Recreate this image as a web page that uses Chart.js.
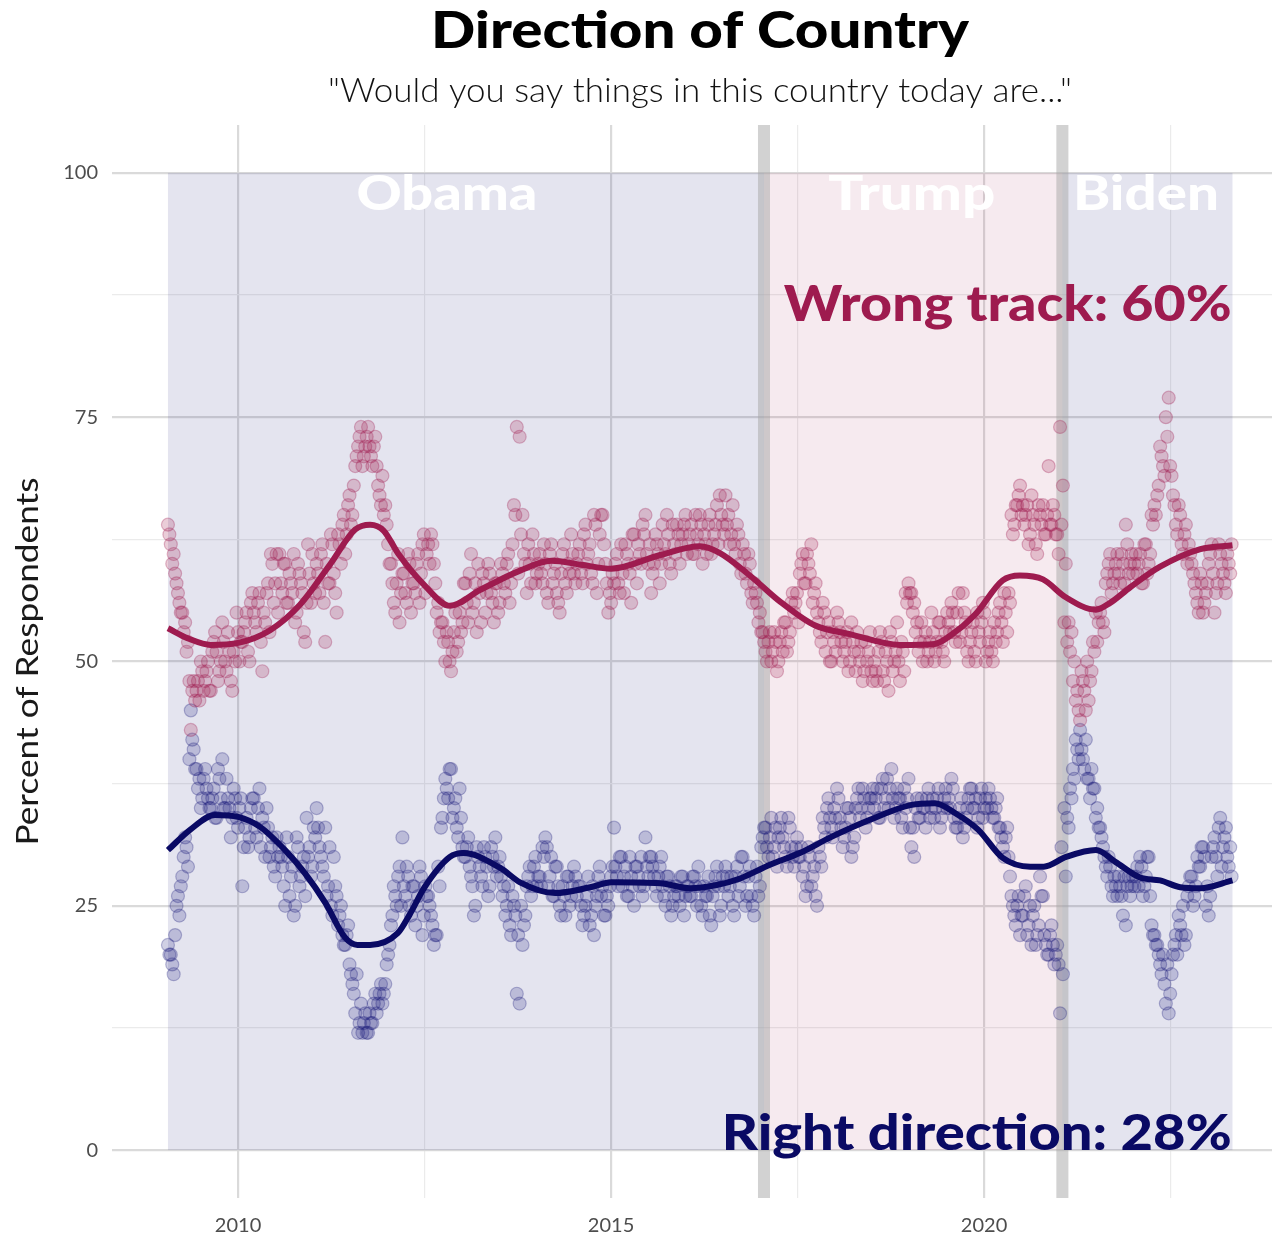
<!DOCTYPE html>
<html>
<head>
<meta charset="utf-8">
<title>Direction of Country</title>
<script src="https://cdn.jsdelivr.net/npm/chart.js@4.4.0/dist/chart.umd.min.js"></script>
<style>
  html, body { margin: 0; padding: 0; background: #ffffff; }
  #wrap { width: 1272px; height: 1238px; position: relative; }
</style>
</head>
<body>
<div id="wrap"><canvas id="chart"></canvas></div>
<script>
// Direction of Country - weekly tracking poll, right direction vs wrong track

// Poll series: weekly polls split in two interleaved biweekly runs
const FIRST_POLL = 2009.06;
const POLL_STEP = 14 / 365.25;
const HALF_STEP = 7 / 365.25;

const wrongTrack = [
  64, 62, 61, 58, 56, 55, 54, 52, 43, 48, 47, 46, 49,
  48, 50, 47, 52, 51, 49, 54, 50, 53, 48, 51, 55, 50,
  52, 54, 51, 56, 55, 53, 57, 49, 54, 58, 61, 56, 61,
  61, 57, 60, 56, 58, 61, 55, 59, 57, 52, 62, 56, 58,
  60, 57, 62, 52, 58, 63, 59, 55, 62, 64, 61, 66, 64,
  68, 71, 73, 70, 72, 74, 71, 72, 70, 67, 69, 66, 62,
  60, 56, 58, 54, 59, 57, 61, 55, 58, 60, 56, 62, 57,
  62, 63, 60, 55, 53, 54, 50, 52, 49, 53, 51, 55, 54,
  58, 54, 61, 56, 53, 57, 59, 55, 60, 57, 54, 58, 56,
  59, 57, 61, 58, 66, 74, 73, 65, 60, 62, 58, 61, 59,
  61, 58, 60, 56, 62, 59, 57, 55, 61, 58, 60, 63, 59,
  60, 62, 58, 64, 61, 59, 65, 57, 63, 65, 60, 55, 56,
  58, 61, 57, 59, 62, 60, 56, 63, 58, 61, 64, 65, 60,
  57, 60, 62, 58, 64, 61, 63, 59, 62, 64, 60, 63, 65,
  62, 64, 61, 63, 65, 60, 62, 64, 61, 63, 66, 67, 64,
  67, 65, 63, 62, 64, 60, 62, 59, 61, 57, 58, 56, 55,
  53, 51, 52, 50, 53, 49, 52, 51, 54, 52, 56, 55, 57,
  59, 61, 58, 60, 62, 57, 55, 53, 56, 51, 54, 50, 52,
  55, 53, 50, 52, 49, 54, 51, 53, 50, 48, 52, 51, 49,
  50, 48, 53, 49, 51, 47, 52, 50, 54, 48, 51, 57, 58,
  57, 56, 54, 52, 50, 53, 51, 55, 50, 52, 54, 51, 53,
  54, 56, 53, 55, 52, 57, 54, 50, 53, 51, 55, 52, 56,
  50, 52, 51, 54, 53, 56, 52, 55, 57, 65, 64, 66, 68,
  66, 65, 62, 67, 64, 61, 65, 66, 63, 70, 64, 65, 63,
  74, 68, 60, 54, 53, 50, 47, 44, 48, 45, 46, 49, 51,
  52, 55, 54, 58, 60, 57, 59, 61, 58, 60, 64, 59, 61,
  60, 59, 61, 58, 62, 60, 65, 66, 67, 72, 70, 75, 77,
  69, 66, 63, 65, 61, 64, 62, 60, 58, 56, 59, 55, 57,
  60, 62, 55, 58, 61, 59, 57, 60, 62
];

const wrongTrackMid = [
  63, 60, 59, 57, 55, 53, 51, 48, 47, 46, 48, 50, 47,
  49, 47, 51, 53, 48, 50, 52, 49, 51, 47, 50, 53, 52,
  53, 55, 50, 57, 54, 56, 52, 55, 57, 53, 60, 58, 55,
  58, 60, 56, 59, 57, 54, 60, 58, 53, 56, 59, 61, 57,
  59, 61, 56, 60, 58, 62, 57, 63, 60, 65, 63, 67, 65,
  70, 72, 74, 71, 73, 72, 70, 73, 68, 66, 65, 64, 60,
  58, 55, 61, 57, 59, 56, 60, 58, 57, 61, 59, 63, 61,
  60, 62, 58, 56, 54, 52, 53, 50, 51, 55, 52, 53, 58,
  56, 59, 55, 58, 60, 54, 58, 57, 59, 56, 58, 55, 60,
  58, 60, 56, 62, 65, 59, 63, 61, 57, 60, 63, 58, 60,
  59, 62, 57, 61, 58, 60, 56, 59, 62, 57, 59, 61, 58,
  61, 59, 63, 60, 62, 58, 64, 60, 65, 62, 58, 57, 59,
  60, 58, 62, 57, 61, 59, 63, 60, 62, 60, 63, 61, 62,
  59, 63, 61, 60, 62, 65, 60, 64, 61, 63, 62, 64, 61,
  63, 61, 65, 62, 64, 63, 61, 65, 62, 64, 62, 65, 63,
  64, 62, 66, 61, 63, 59, 61, 58, 60, 56, 57, 54, 53,
  52, 50, 53, 51, 52, 50, 53, 54, 51, 53, 57, 56, 54,
  60, 58, 61, 59, 56, 58, 54, 52, 55, 53, 50, 53, 51,
  54, 52, 51, 53, 50, 52, 49, 51, 52, 49, 50, 53, 48,
  49, 51, 52, 48, 50, 53, 49, 51, 50, 52, 49, 56, 57,
  55, 53, 51, 54, 52, 50, 52, 53, 51, 54, 52, 50, 55,
  53, 55, 52, 57, 53, 55, 51, 52, 54, 50, 53, 54, 55,
  51, 53, 50, 52, 55, 54, 57, 53, 56, 63, 66, 67, 65,
  64, 66, 63, 65, 62, 66, 64, 63, 65, 64, 66, 63, 61,
  64, 54, 52, 51, 48, 46, 45, 49, 47, 50, 48, 52, 55,
  54, 56, 53, 59, 61, 58, 60, 59, 61, 58, 62, 60, 59,
  61, 60, 58, 62, 59, 61, 64, 65, 68, 71, 69, 73, 70,
  67, 64, 66, 62, 63, 60, 61, 59, 57, 55, 58, 56, 58,
  61, 59, 57, 62, 60, 58, 61, 59
];

const rightDirection = [
  21, 20, 18, 25, 24, 28, 32, 29, 45, 41, 39, 38, 36,
  39, 36, 35, 37, 34, 38, 40, 35, 36, 32, 37, 34, 35,
  27, 33, 31, 35, 36, 32, 37, 34, 30, 33, 31, 29, 32,
  31, 29, 25, 30, 28, 24, 32, 27, 29, 26, 30, 28, 33,
  35, 31, 29, 33, 27, 25, 30, 26, 24, 22, 21, 23, 18,
  16, 18, 13, 12, 14, 12, 13, 15, 14, 16, 15, 17, 20,
  23, 27, 25, 29, 32, 26, 28, 24, 27, 25, 29, 22, 27,
  26, 24, 21, 22, 27, 34, 38, 36, 39, 35, 33, 37, 31,
  30, 32, 28, 24, 31, 29, 27, 30, 26, 31, 29, 28, 30,
  26, 24, 27, 22, 25, 16, 15, 21, 24, 28, 26, 29, 27,
  28, 31, 32, 27, 30, 26, 29, 25, 27, 24, 28, 26, 29,
  26, 27, 23, 25, 28, 24, 22, 26, 29, 27, 24, 25, 28,
  33, 28, 30, 27, 29, 26, 28, 25, 29, 27, 26, 32, 28,
  30, 28, 26, 29, 27, 25, 28, 24, 26, 27, 25, 28, 26,
  27, 26, 28, 25, 27, 24, 26, 28, 23, 27, 29, 24, 28,
  29, 26, 28, 24, 29, 27, 30, 25, 28, 26, 24, 29, 27,
  32, 33, 30, 34, 31, 29, 33, 32, 30, 34, 31, 29, 32,
  30, 28, 26, 31, 27, 29, 25, 30, 34, 32, 36, 33, 35,
  37, 34, 31, 33, 35, 30, 32, 36, 34, 37, 33, 35, 36,
  35, 37, 34, 38, 36, 35, 39, 34, 37, 36, 33, 35, 38,
  31, 30, 36, 34, 35, 33, 37, 35, 34, 36, 33, 35, 37,
  36, 38, 34, 33, 35, 32, 34, 36, 37, 35, 33, 36, 34,
  36, 37, 35, 34, 36, 33, 31, 32, 30, 26, 24, 25, 22,
  24, 27, 23, 21, 25, 22, 28, 26, 21, 20, 23, 19, 21,
  14, 18, 28, 33, 36, 38, 41, 43, 40, 42, 38, 39, 37,
  35, 33, 31, 29, 30, 27, 28, 26, 27, 24, 23, 28, 27,
  27, 29, 30, 26, 28, 30, 23, 22, 21, 19, 20, 15, 14,
  18, 21, 20, 23, 25, 22, 27, 28, 26, 30, 29, 31, 25,
  24, 30, 32, 28, 34, 31, 33, 29, 28
];

const rightDirectionMid = [
  20, 19, 22, 26, 27, 30, 31, 40, 42, 39, 37, 35, 38,
  37, 35, 36, 34, 39, 36, 35, 38, 35, 34, 36, 33, 36,
  31, 34, 32, 36, 33, 35, 31, 33, 35, 30, 32, 28, 30,
  30, 27, 32, 26, 29, 25, 31, 28, 30, 34, 31, 29, 32,
  33, 30, 28, 26, 31, 24, 27, 23, 25, 21, 22, 19, 17,
  14, 12, 15, 13, 12, 14, 13, 16, 15, 17, 16, 19, 21,
  24, 26, 28, 25, 27, 29, 25, 27, 23, 26, 28, 24, 26,
  25, 23, 22, 29, 33, 36, 37, 39, 34, 36, 32, 34, 30,
  31, 29, 27, 25, 30, 28, 31, 29, 27, 30, 32, 29, 28,
  27, 25, 23, 26, 24, 22, 25, 23, 27, 29, 27, 30, 28,
  27, 30, 31, 28, 26, 29, 27, 24, 26, 28, 25, 27, 28,
  27, 25, 24, 26, 23, 27, 25, 28, 26, 24, 26, 27, 29,
  29, 27, 30, 28, 26, 30, 27, 29, 28, 30, 27, 29, 30,
  29, 27, 28, 30, 26, 28, 27, 25, 27, 26, 28, 24, 27,
  26, 28, 27, 29, 25, 27, 26, 24, 26, 28, 27, 25, 27,
  28, 27, 25, 28, 26, 30, 28, 26, 29, 25, 28, 26, 31,
  33, 31, 32, 30, 33, 32, 34, 31, 29, 33, 30, 31, 30,
  31, 29, 27, 30, 28, 26, 31, 29, 33, 35, 34, 32, 34,
  36, 33, 32, 35, 34, 31, 35, 37, 35, 36, 34, 36, 37,
  36, 34, 37, 35, 38, 37, 36, 35, 36, 34, 37, 36, 33,
  33, 35, 34, 36, 35, 36, 34, 36, 35, 37, 34, 36, 35,
  35, 37, 33, 34, 36, 33, 35, 37, 35, 36, 34, 37, 35,
  35, 36, 34, 35, 33, 32, 30, 33, 28, 25, 23, 26, 24,
  26, 22, 25, 24, 21, 23, 26, 22, 20, 22, 21, 20, 19,
  31, 35, 34, 37, 39, 42, 40, 41, 39, 38, 36, 37, 34,
  33, 32, 30, 28, 29, 26, 27, 28, 26, 28, 27, 26, 28,
  28, 27, 29, 27, 30, 26, 22, 21, 20, 18, 17, 19, 16,
  20, 22, 24, 22, 21, 26, 28, 25, 27, 29, 31, 30, 27,
  26, 31, 30, 33, 29, 32, 30, 31
];

// Smoothed trend lines
const wrongSmoothYears = [2009.06, 2009.35, 2009.63, 2010.0, 2010.43, 2010.83, 2011.23, 2011.57, 2011.77, 2011.95,
  2012.15, 2012.5, 2012.84, 2013.24, 2013.78, 2014.2, 2014.6, 2015.0, 2015.66, 2016.19, 2016.46, 2016.86,
  2017.27, 2017.73, 2018.2, 2018.87, 2019.34, 2019.54, 2019.88, 2020.25, 2020.48, 2020.79, 2021.09, 2021.5,
  2021.69, 2021.96, 2022.36, 2022.9, 2023.33];
const wrongSmooth = [53.4, 52.3, 51.7, 51.9, 53.2, 55.8, 59.9, 63.5, 64.0, 63.4,
  61.0, 57.8, 55.7, 57.3, 59.3, 60.3, 59.9, 59.5, 60.9, 61.8, 61.1, 58.8,
  56.1, 53.7, 52.8, 51.7, 51.8, 52.6, 54.8, 58.3, 58.8, 58.4, 56.6, 55.3,
  56.0, 57.6, 59.7, 61.5, 61.9];

const rightSmoothYears = [2009.06, 2009.36, 2009.69, 2010.0, 2010.29, 2010.63, 2010.9, 2011.17, 2011.43, 2011.6,
  2011.77, 2012.14, 2012.3, 2012.5, 2012.84, 2013.02, 2013.51, 2013.78, 2014.25, 2014.72, 2015.01, 2015.66,
  2016.06, 2016.4, 2016.73, 2017.13, 2017.53, 2017.94, 2018.47, 2019.01, 2019.34, 2019.61, 2019.92, 2020.25,
  2020.62, 2020.8, 2021.1, 2021.5, 2021.76, 2022.09, 2022.36, 2022.63, 2022.9, 2023.33];
const rightSmooth = [30.7, 32.8, 34.3, 34.1, 33.1, 30.7, 28.3, 25.3, 21.8, 21.0,
  21.0, 22.2, 24.1, 26.9, 30.0, 30.4, 28.9, 27.4, 26.3, 26.9, 27.4, 27.3,
  26.8, 27.1, 27.8, 29.2, 30.4, 32.0, 33.8, 35.3, 35.5, 34.5, 32.8, 29.9,
  29.0, 29.0, 30.0, 30.7, 29.5, 27.9, 27.6, 26.9, 26.8, 27.6];

// Presidential terms
const termNames = ['Obama', 'Trump', 'Biden'];
const termStarts = [2009.06, 2017.05, 2021.05];
const termEnds = [2017.05, 2021.05, 2023.33];
const inaugurations = [2017.05, 2021.05];

// Axis ticks
const xGridYears = [2010, 2012.5, 2015, 2017.5, 2020, 2022.5];
const yGridValues = [0, 12.5, 25, 37.5, 50, 62.5, 75, 87.5, 100];

// Colours
const RED = '#9e1b4f';
const NAVY = '#0a0a64';
const DEM_SHADE = 'rgba(30, 30, 122, 0.12)';
const GOP_SHADE = 'rgba(150, 25, 75, 0.09)';
const GRID_MAJOR = '#dadada';
const GRID_MINOR = '#ebebeb';

const pollYears = wrongTrack.map((_, i) => FIRST_POLL + i * POLL_STEP);
const pollYearsMid = wrongTrackMid.map((_, i) => FIRST_POLL + HALF_STEP + i * POLL_STEP);
const toPoints = (xs, ys) => ys.map((y, i) => ({ x: xs[i], y: y }));

// draw text squeezed/stretched to a given width (reference font is wider than ours)
function drawText(ctx, text, x, y, o) {
  ctx.save();
  ctx.font = `${o.weight} ${o.size}px ${o.family}`;
  ctx.fillStyle = o.color;
  ctx.textAlign = 'left';
  ctx.textBaseline = 'alphabetic';
  const w = ctx.measureText(text).width;
  const sx = o.width ? o.width / w : 1;
  ctx.translate(x, y);
  if (o.rotate) ctx.rotate(o.rotate);
  let left = 0;
  if (o.align === 'center') left = -w * sx / 2;
  if (o.align === 'right') left = -w * sx;
  ctx.translate(left, 0);
  ctx.scale(sx, 1);
  ctx.fillText(text, 0, 0);
  ctx.restore();
}

const backdropPlugin = {
  id: 'backdrop',
  beforeDatasetsDraw(chart) {
    const { ctx, chartArea, scales } = chart;
    const xs = scales.x, ys = scales.y;
    ctx.save();
    // term shading
    termStarts.forEach((start, i) => {
      const x0 = xs.getPixelForValue(start);
      const x1 = xs.getPixelForValue(termEnds[i]);
      const y0 = ys.getPixelForValue(100);
      const y1 = ys.getPixelForValue(0);
      ctx.fillStyle = termNames[i] === 'Trump' ? GOP_SHADE : DEM_SHADE;
      ctx.fillRect(x0, y0, x1 - x0, y1 - y0);
    });
    // inauguration bars
    ctx.fillStyle = 'rgba(165, 165, 165, 0.5)';
    inaugurations.forEach(d => {
      const xc = xs.getPixelForValue(d);
      ctx.fillRect(xc - 6, chartArea.top, 12, chartArea.bottom - chartArea.top);
    });
    ctx.restore();

    // term names
    const labelX = [2012.8, 2019.03, 2022.17];
    const labelW = [181, 167, 146];
    termNames.forEach((name, i) => {
      drawText(ctx, name, xs.getPixelForValue(labelX[i]), ys.getPixelForValue(96.2), {
        weight: 900, size: 48, family: 'Lato, sans-serif', color: '#ffffff', align: 'center', width: labelW[i]
      });
    });
  },
  afterDatasetsDraw(chart) {
    const { ctx, scales } = chart;
    const xs = scales.x, ys = scales.y;
    const right = xs.getPixelForValue(2023.32);
    drawText(ctx, 'Wrong track: 60%', right, ys.getPixelForValue(84.85), {
      weight: 900, size: 49, family: 'Lato, sans-serif', color: RED, align: 'right', width: 448
    });
    drawText(ctx, 'Right direction: 28%', right, ys.getPixelForValue(0), {
      weight: 900, size: 49, family: 'Lato, sans-serif', color: NAVY, align: 'right', width: 510
    });
  },
  afterDraw(chart) {
    const { ctx, chartArea } = chart;
    drawText(ctx, 'Direction of Country', 700, 48, {
      weight: 900, size: 52, family: 'Lato, sans-serif', color: '#000000', align: 'center', width: 538
    });
    drawText(ctx, '"Would you say things in this country today are..."', 700, 102, {
      weight: 300, size: 33, family: 'Lato, sans-serif', color: '#111111', align: 'center', width: 744
    });
    const midY = (chartArea.top + chartArea.bottom) / 2;
    drawText(ctx, 'Percent of Respondents', 38, midY, {
      weight: 400, size: 30, family: 'Lato, sans-serif', color: '#1a1a1a', align: 'center', width: 368,
      rotate: -Math.PI / 2
    });
  }
};

const isMajorX = v => v % 5 === 0;
const isMajorY = v => v % 25 === 0;

const redDots = {
  backgroundColor: 'rgba(158, 27, 79, 0.22)',
  borderColor: 'rgba(158, 27, 79, 0.3)',
  borderWidth: 1.2,
  pointRadius: 6.5,
  order: 2
};
const navyDots = {
  backgroundColor: 'rgba(20, 20, 120, 0.2)',
  borderColor: 'rgba(20, 20, 120, 0.28)',
  borderWidth: 1.2,
  pointRadius: 6.5,
  order: 2
};

new Chart(document.getElementById('chart').getContext('2d'), {
  type: 'scatter',
  data: {
    datasets: [
      {
        label: 'Wrong track trend',
        type: 'line',
        data: toPoints(wrongSmoothYears, wrongSmooth),
        borderColor: RED,
        borderWidth: 6,
        pointRadius: 0,
        cubicInterpolationMode: 'monotone',
        fill: false,
        order: 1
      },
      {
        label: 'Right direction trend',
        type: 'line',
        data: toPoints(rightSmoothYears, rightSmooth),
        borderColor: NAVY,
        borderWidth: 6,
        pointRadius: 0,
        cubicInterpolationMode: 'monotone',
        fill: false,
        order: 1
      },
      Object.assign({ label: 'Wrong track', data: toPoints(pollYears, wrongTrack) }, redDots),
      Object.assign({ label: 'Wrong track (alt weeks)', data: toPoints(pollYearsMid, wrongTrackMid) }, redDots),
      Object.assign({ label: 'Right direction', data: toPoints(pollYears, rightDirection) }, navyDots),
      Object.assign({ label: 'Right direction (alt weeks)', data: toPoints(pollYearsMid, rightDirectionMid) }, navyDots)
    ]
  },
  options: {
    responsive: true,
    maintainAspectRatio: false,
    animation: false,
    layout: { autoPadding: false, padding: { top: 125, left: 0, right: 0, bottom: 0 } },
    plugins: {
      legend: { display: false },
      title: { display: false },
      tooltip: { enabled: false }
    },
    scales: {
      x: {
        type: 'linear',
        min: 2008.31,
        max: 2023.86,
        afterBuildTicks: axis => { axis.ticks = xGridYears.map(v => ({ value: v })); },
        afterFit: axis => { axis.height = 40; },
        border: { display: false },
        grid: {
          drawTicks: false,
          color: c => (c.tick && isMajorX(c.tick.value) ? GRID_MAJOR : GRID_MINOR),
          lineWidth: c => (c.tick && isMajorX(c.tick.value) ? 2.2 : 1.2)
        },
        ticks: {
          padding: 16,
          maxRotation: 0,
          autoSkip: false,
          color: '#4d4d4d',
          font: { family: 'Lato, sans-serif', size: 20 },
          callback: v => (isMajorX(v) ? String(v) : '')
        }
      },
      y: {
        min: -4.9,
        max: 104.9,
        afterBuildTicks: axis => { axis.ticks = yGridValues.map(v => ({ value: v })); },
        afterFit: axis => { axis.width = 112; },
        border: { display: false },
        grid: {
          drawTicks: false,
          color: c => (c.tick && isMajorY(c.tick.value) ? GRID_MAJOR : GRID_MINOR),
          lineWidth: c => (c.tick && isMajorY(c.tick.value) ? 2.2 : 1.2)
        },
        ticks: {
          padding: 14,
          autoSkip: false,
          color: '#4d4d4d',
          font: { family: 'Lato, sans-serif', size: 20 },
          callback: v => (isMajorY(v) ? String(v) : '')
        }
      }
    }
  },
  plugins: [backdropPlugin]
});
</script>
</body>
</html>
